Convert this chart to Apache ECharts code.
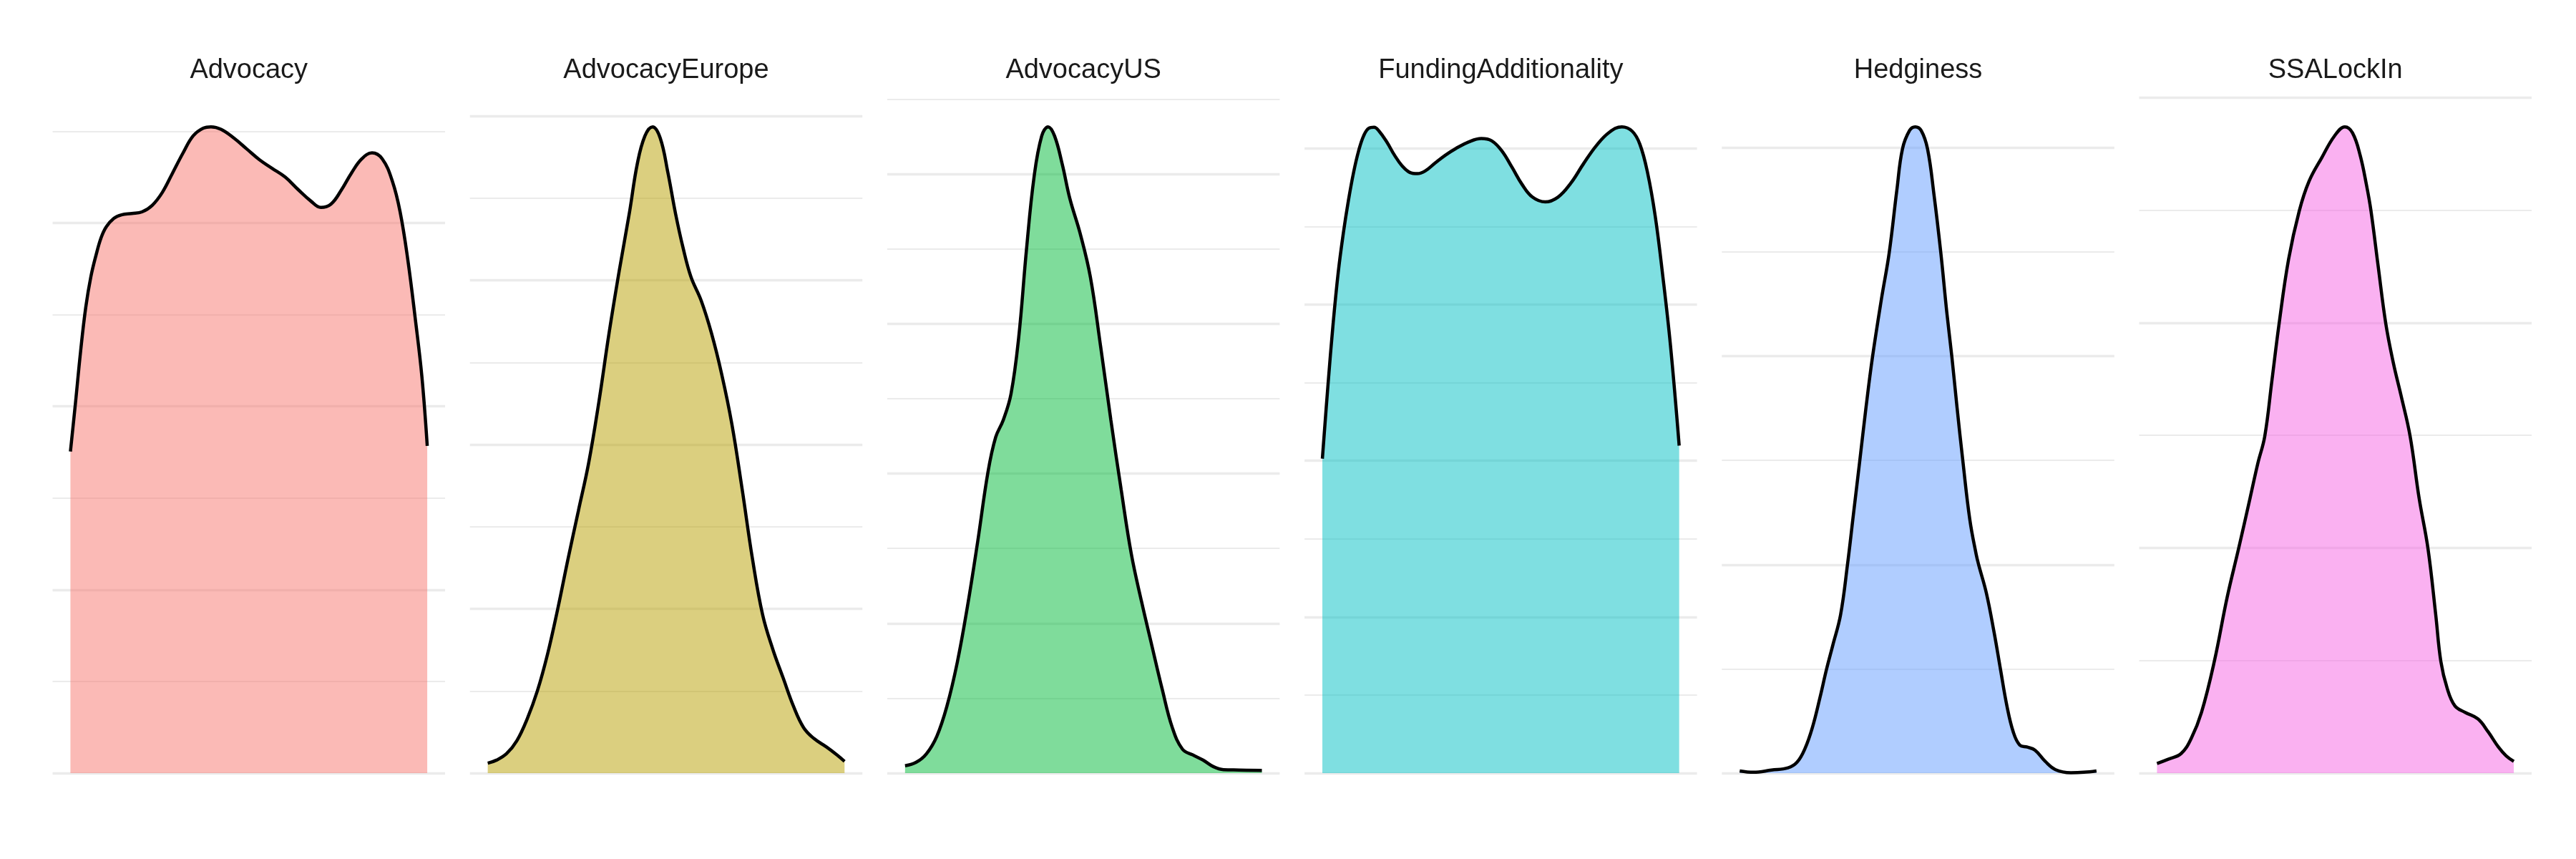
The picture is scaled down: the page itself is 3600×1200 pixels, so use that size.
<!DOCTYPE html>
<html>
<head>
<meta charset="UTF-8">
<title>Density of each measure</title>
<script src="https://cdn.jsdelivr.net/npm/echarts@6/dist/echarts.min.js"></script>
<style>
    html, body { margin: 0; padding: 0; background: #ffffff; }
    #density-chart { width: 3600px; height: 1200px; }
</style>
</head>
<body>
<div id="density-chart"></div>
<script>
    // facet names, in panel order
    var measures = ['Advocacy', 'AdvocacyEurope', 'AdvocacyUS', 'FundingAdditionality', 'Hedginess', 'SSALockIn'];

    // density curves (x = score, y = density)
    var advocacyX = [1.000, 1.057, 1.115, 1.172, 1.229, 1.287, 1.344, 1.401, 1.487, 1.573, 1.688, 1.802, 1.917, 2.031, 2.146, 2.261, 2.375, 2.490, 2.576, 2.690, 2.834, 2.977, 3.120, 3.263, 3.407, 3.550, 3.693, 3.808, 3.922, 4.037, 4.152, 4.266, 4.381, 4.496, 4.610, 4.696, 4.782, 4.868, 4.940, 5.000];
    var advocacyY = [0.1754, 0.2021, 0.2305, 0.2541, 0.2707, 0.2825, 0.2920, 0.2979, 0.3026, 0.3045, 0.3052, 0.3061, 0.3097, 0.3168, 0.3274, 0.3381, 0.3475, 0.3518, 0.3525, 0.3511, 0.3463, 0.3404, 0.3345, 0.3298, 0.3251, 0.3184, 0.3121, 0.3085, 0.3104, 0.3180, 0.3274, 0.3350, 0.3383, 0.3350, 0.3227, 0.3061, 0.2801, 0.2470, 0.2163, 0.1785];

    var europeX = [1.000, 1.098, 1.212, 1.327, 1.442, 1.557, 1.671, 1.786, 1.901, 2.016, 2.131, 2.245, 2.360, 2.475, 2.590, 2.676, 2.762, 2.848, 2.934, 3.020, 3.106, 3.192, 3.278, 3.393, 3.508, 3.623, 3.737, 3.852, 3.967, 4.082, 4.197, 4.311, 4.426, 4.541, 4.656, 4.799, 4.914, 5.000];
    var europeY = [0.0121, 0.0158, 0.0238, 0.0396, 0.0660, 0.1003, 0.1451, 0.2006, 0.2613, 0.3193, 0.3774, 0.4513, 0.5357, 0.6122, 0.6835, 0.7416, 0.7759, 0.7870, 0.7732, 0.7310, 0.6809, 0.6386, 0.6043, 0.5753, 0.5357, 0.4856, 0.4249, 0.3457, 0.2613, 0.1926, 0.1504, 0.1161, 0.0818, 0.0554, 0.0422, 0.0317, 0.0222, 0.0143];

    var usX = [1.000, 1.126, 1.241, 1.356, 1.470, 1.585, 1.700, 1.815, 1.930, 2.016, 2.102, 2.188, 2.274, 2.360, 2.446, 2.532, 2.604, 2.676, 2.762, 2.848, 2.963, 3.077, 3.192, 3.307, 3.422, 3.537, 3.652, 3.766, 3.881, 3.996, 4.111, 4.225, 4.340, 4.455, 4.570, 4.742, 5.000];
    var usY = [0.0098, 0.0145, 0.0260, 0.0492, 0.0897, 0.1476, 0.2228, 0.3097, 0.4023, 0.4486, 0.4717, 0.5065, 0.5817, 0.6975, 0.7958, 0.8508, 0.8630, 0.8508, 0.8132, 0.7669, 0.7206, 0.6627, 0.5701, 0.4717, 0.3791, 0.2923, 0.2286, 0.1707, 0.1129, 0.0608, 0.0318, 0.0243, 0.0174, 0.0087, 0.0046, 0.0041, 0.0035];

    var fundingX = [1.000, 1.063, 1.120, 1.178, 1.235, 1.292, 1.350, 1.407, 1.464, 1.521, 1.579, 1.636, 1.722, 1.808, 1.894, 1.980, 2.066, 2.152, 2.266, 2.381, 2.496, 2.639, 2.782, 2.897, 3.011, 3.126, 3.240, 3.355, 3.498, 3.642, 3.785, 3.928, 4.072, 4.215, 4.358, 4.473, 4.559, 4.645, 4.731, 4.817, 4.903, 5.000];
    var fundingY = [0.2013, 0.2485, 0.2874, 0.3207, 0.3457, 0.3666, 0.3846, 0.3985, 0.4082, 0.4129, 0.4135, 0.4110, 0.4041, 0.3957, 0.3888, 0.3846, 0.3838, 0.3855, 0.3907, 0.3957, 0.3999, 0.4041, 0.4063, 0.4049, 0.3985, 0.3879, 0.3768, 0.3688, 0.3657, 0.3688, 0.3777, 0.3902, 0.4018, 0.4102, 0.4138, 0.4110, 0.4027, 0.3846, 0.3568, 0.3180, 0.2735, 0.2097];

    var hedgeX = [1.000, 1.155, 1.356, 1.542, 1.643, 1.729, 1.815, 1.901, 1.973, 2.044, 2.131, 2.208, 2.274, 2.346, 2.417, 2.489, 2.590, 2.676, 2.762, 2.825, 2.905, 2.968, 3.034, 3.106, 3.178, 3.255, 3.321, 3.379, 3.436, 3.502, 3.580, 3.651, 3.680, 3.766, 3.852, 3.924, 3.996, 4.067, 4.139, 4.225, 4.311, 4.426, 4.541, 4.713, 4.856, 5.000];
    var hedgeY = [0.0021, 0.0008, 0.0029, 0.0050, 0.0104, 0.0229, 0.0437, 0.0728, 0.0994, 0.1227, 0.1518, 0.1996, 0.2474, 0.2994, 0.3514, 0.3992, 0.4553, 0.4990, 0.5593, 0.5988, 0.6166, 0.6200, 0.6166, 0.5988, 0.5551, 0.4990, 0.4428, 0.3992, 0.3514, 0.2994, 0.2432, 0.2100, 0.1996, 0.1726, 0.1351, 0.0994, 0.0644, 0.0395, 0.0270, 0.0249, 0.0220, 0.0112, 0.0033, 0.0004, 0.0008, 0.0021];

    var lockInX = [1.000, 1.126, 1.270, 1.384, 1.499, 1.643, 1.786, 1.915, 2.044, 2.131, 2.208, 2.288, 2.369, 2.475, 2.595, 2.704, 2.848, 2.991, 3.106, 3.192, 3.278, 3.350, 3.399, 3.479, 3.565, 3.651, 3.737, 3.838, 3.938, 4.038, 4.125, 4.182, 4.254, 4.340, 4.455, 4.598, 4.713, 4.828, 4.914, 5.000];
    var lockInY = [0.0085, 0.0123, 0.0173, 0.0308, 0.0539, 0.0993, 0.1559, 0.1994, 0.2445, 0.2753, 0.2991, 0.3484, 0.3992, 0.4562, 0.4993, 0.5255, 0.5467, 0.5660, 0.5740, 0.5686, 0.5486, 0.5217, 0.4993, 0.4505, 0.3992, 0.3638, 0.3350, 0.2991, 0.2445, 0.1994, 0.1405, 0.0993, 0.0751, 0.0597, 0.0539, 0.0481, 0.0366, 0.0231, 0.0154, 0.0104];

    // major break step on each free y scale
    var yBreakStep = [0.1, 0.2, 0.2, 0.1, 0.2, 0.2];

    var curvesX = [advocacyX, europeX, usX, fundingX, hedgeX, lockInX];
    var curvesY = [advocacyY, europeY, usY, fundingY, hedgeY, lockInY];

    // ggplot default hue palette
    var fillColors = ['#F8766D', '#B79F00', '#00BA38', '#00BFC4', '#619CFF', '#F564E3'];

    // panel geometry (px)
    var panelLeft = 73.5, panelStep = 583.2, panelWidth = 548.5;
    var panelTop = 132, panelHeight = 948;

    var grids = [], xAxes = [], yAxes = [], series = [], titles = [];

    measures.forEach(function (name, i) {
        var xs = curvesX[i], ys = curvesY[i];
        var xMin = xs[0], xMax = xs[xs.length - 1];
        var pad = (xMax - xMin) * 0.05;
        var yTop = Math.max.apply(null, ys) * 1.05;
        var left = panelLeft + panelStep * i;

        grids.push({ left: left, top: panelTop, width: panelWidth, height: panelHeight, containLabel: false });

        xAxes.push({
            gridIndex: i, type: 'value', min: xMin - pad, max: xMax + pad,
            axisLine: { show: false }, axisTick: { show: false }, axisLabel: { show: false },
            splitLine: { show: false }
        });

        yAxes.push({
            gridIndex: i, type: 'value', min: 0, max: yTop, interval: yBreakStep[i],
            axisLine: { show: false }, axisTick: { show: false }, axisLabel: { show: false },
            splitLine: { show: true, showMaxLine: false, lineStyle: { color: '#EBEBEB', width: 3.4 } },
            minorTick: { show: false, splitNumber: 2 },
            minorSplitLine: { show: true, lineStyle: { color: '#EBEBEB', width: 1.8 } }
        });

        series.push({
            name: name, type: 'line', xAxisIndex: i, yAxisIndex: i,
            data: xs.map(function (x, k) { return [x, ys[k]]; }),
            smooth: 0.4, showSymbol: false, silent: true,
            lineStyle: { color: '#000000', width: 4.5 },
            areaStyle: { color: fillColors[i], opacity: 0.5 }
        });

        titles.push({
            text: name, left: left + panelWidth / 2, top: 80, textAlign: 'center', padding: 0,
            textStyle: { fontFamily: 'Liberation Sans', fontSize: 38, fontWeight: 'normal', color: '#1A1A1A' }
        });
    });

    var chart = echarts.init(document.getElementById('density-chart'), null, { renderer: 'canvas' });
    chart.setOption({
        backgroundColor: '#ffffff',
        animation: false,
        title: titles,
        grid: grids,
        xAxis: xAxes,
        yAxis: yAxes,
        series: series
    });
</script>
</body>
</html>
